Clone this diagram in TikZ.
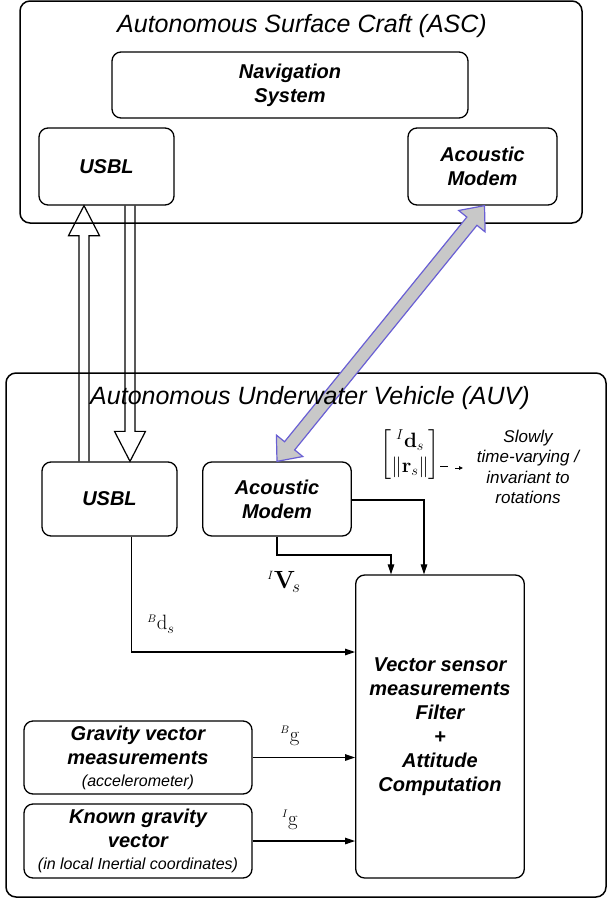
\documentclass[tikz,border=0pt]{standalone}
\usepackage{amsmath}
\usepackage[no-math]{fontspec}
\setmainfont{Liberation Sans}
\usetikzlibrary{arrows.meta,calc}
\definecolor{linkblue}{RGB}{105,95,212}
\definecolor{linkgray}{RGB}{200,200,200}
\begin{document}
\begin{tikzpicture}[x=1pt,y=-1pt,
  box/.style={draw, line width=1.3pt, rounded corners=9pt, inner sep=0pt, align=center,
    font=\bfseries\itshape\fontsize{20}{24}\selectfont},
  frame/.style={draw, line width=1.5pt, rounded corners=10pt, inner sep=0pt},
  ttl/.style={font=\itshape\fontsize{25}{30}\selectfont, inner sep=0pt},
  conn/.style={line width=1.2pt, -{Triangle[length=10pt,width=6.5pt]}},
  hollowarrow/.style={draw, line width=1.2pt, line join=miter},
  modemlink/.style={draw=linkblue, fill=linkgray, line width=1.2pt, line join=miter},
  lbl/.style={font=\fontsize{22}{24}\selectfont, inner sep=0pt}
]
\useasboundingbox (0,0) rectangle (607,900);

% frames
\node[frame, minimum width=562pt, minimum height=222pt] (asc) at (301,112) {};
\node[frame, minimum width=600pt, minimum height=524pt] (auv) at (306,635) {};

% ASC boxes
\node[ttl] (asct) at (302,26) {Autonomous Surface Craft (ASC)};
\node[box, minimum width=356pt, minimum height=66pt] (nav) at (290,85) {Navigation\\System};
\node[box, minimum width=135pt, minimum height=77pt] (usblT) at (106.5,166.5) {USBL};
\node[box, minimum width=149pt, minimum height=77pt] (modemT) at (482.5,166.5) {Acoustic\\Modem};

% AUV boxes
\node[box, minimum width=135pt, minimum height=74pt] (usblB) at (109.5,499) {USBL};
\node[box, minimum width=148.5pt, minimum height=74pt] (modemB) at (277,499) {Acoustic\\Modem};
\node[box, minimum width=168.6pt, minimum height=303pt] (vec) at (440,726.5)
  {Vector sensor\\measurements\\Filter\\+\\Attitude\\Computation};
\node[box, minimum width=228pt, minimum height=73pt] (grav) at (138,757.5)
  {Gravity vector\\measurements\\[-2pt]{\mdseries\itshape\fontsize{16}{19}\selectfont (accelerometer)}};
\node[box, minimum width=228pt, minimum height=74pt] (known) at (138,841)
  {Known gravity\\vector\\[-2pt]{\mdseries\itshape\fontsize{16}{19}\selectfont (in local Inertial coordinates)}};

% labels
\node[lbl] (lbd) at (161,624) {${}^{\scriptscriptstyle B}\mathrm{d}_s$};
\node[lbl, font=\fontsize{24}{26}\selectfont] (lvs) at (284,582) {${}^{\scriptscriptstyle I}\mathbf{V}_{\!s}$};
\node[lbl] (lbg) at (290,736) {${}^{\scriptscriptstyle B}\mathrm{g}$};
\node[lbl] (lig) at (290,820) {${}^{\scriptscriptstyle I}\mathrm{g}$};
\node[inner sep=0pt, font=\fontsize{21}{25}\selectfont, anchor=east] (mat) at (440,455)
  {$\begin{bmatrix} {}^{I}\mathbf{d}_s \\ \|\mathbf{r}_s\| \end{bmatrix}$};
\node[align=center, inner sep=0pt, font=\itshape\fontsize{17}{20.5}\selectfont] (note) at (528,467)
  {Slowly\\time-varying /\\invariant to\\rotations};
\draw[line width=0.9pt] ($(mat.east)+(0,11)$) -- ++(8,0);
\draw[line width=0.9pt, -{Triangle[length=4pt,width=3.5pt]}] ($(mat.east)+(15,13)$) -- ++(8,0);

% connectors
\coordinate (b1) at (131.5,652);
\draw[conn] (usblB.south -| b1) |- (vec.west |- b1);
\coordinate (m1) at (391,555);
\draw[conn] (modemB.south) |- (m1) -- (m1 |- vec.north);
\coordinate (m2) at (424,500);
\draw[conn] (modemB.east |- m2) -| (m2 |- vec.north);
\draw[conn] (grav.east) -- (grav.east -| vec.west);
\draw[conn] (known.east) -- (known.east -| vec.west);

% hollow USBL arrows
\coordinate (ux) at (84,0);
\coordinate (dx) at (130,0);
\coordinate (uB) at (usblB.north -| ux);
\coordinate (uT) at (usblT.south -| ux);
\coordinate (dS) at (usblT.south -| dx);
\coordinate (dD) at (usblB.north -| dx);
\draw[hollowarrow] ($(uB)+(-5,0)$) -- ($(uT)+(-5,30)$) -- ($(uT)+(-15.5,30)$) -- (uT)
  -- ($(uT)+(15.5,30)$) -- ($(uT)+(5,30)$) -- ($(uB)+(5,0)$);
\draw[hollowarrow] ($(dS)+(-5,0)$) -- ($(dD)+(-5,-30)$) -- ($(dD)+(-15.5,-30)$) -- (dD)
  -- ($(dD)+(15.5,-30)$) -- ($(dD)+(5,-30)$) -- ($(dS)+(5,0)$);

% acoustic link (double arrow)
\coordinate (A) at (modemB.north);
\coordinate (B) at ($(modemT.south)+(2,0)$);
\coordinate (HA) at ($(A)!20pt!(B)$);
\coordinate (HB) at ($(B)!20pt!(A)$);
\draw[modemlink] (A) -- ($(HA)!17pt!90:(B)$) -- ($(HA)!6.5pt!90:(B)$)
  -- ($(HB)!6.5pt!-90:(A)$) -- ($(HB)!17pt!-90:(A)$) -- (B)
  -- ($(HB)!17pt!90:(A)$) -- ($(HB)!6.5pt!90:(A)$)
  -- ($(HA)!6.5pt!-90:(B)$) -- ($(HA)!17pt!-90:(B)$) -- cycle;

% AUV title drawn over the links
\node[ttl] (auvt) at (310,398) {Autonomous Underwater Vehicle (AUV)};
\end{tikzpicture}
\end{document}
